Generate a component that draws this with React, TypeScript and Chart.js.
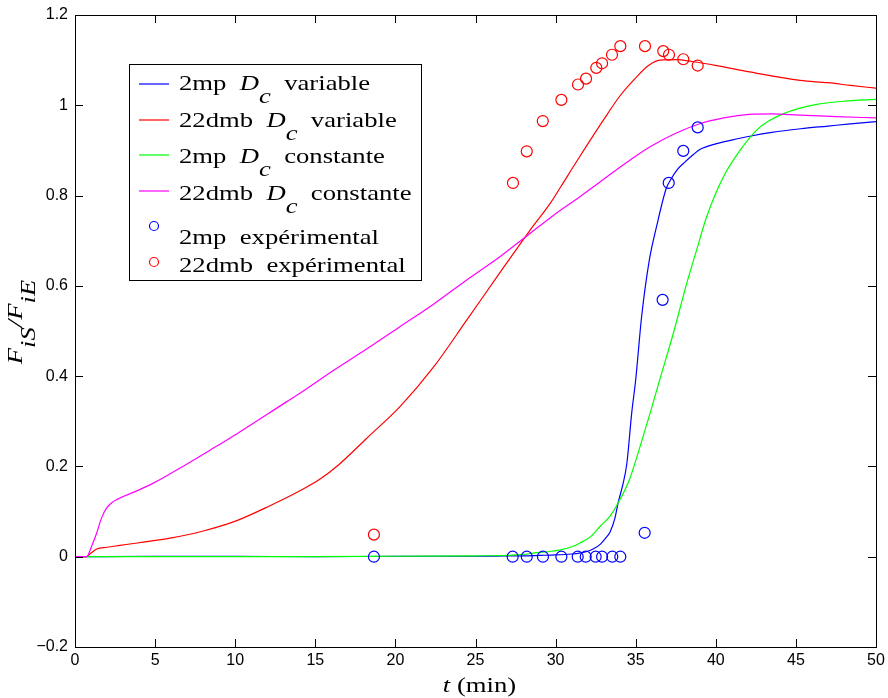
import React, { useEffect, useRef } from 'react';
import { Chart, registerables } from 'chart.js';

Chart.register(...registerables);

// ---- data ----
const xTickValues = [0, 5, 10, 15, 20, 25, 30, 35, 40, 45, 50];
const yTickValues = [-0.2, 0, 0.2, 0.4, 0.6, 0.8, 1, 1.2];

const t2mpVar = [0, 5, 10, 15, 20, 25, 27, 28, 29, 30, 31, 31.5, 32, 32.4, 32.8, 33.1, 33.4, 33.7, 33.9, 34.2, 34.45, 34.75, 35.0, 35.37, 35.85, 36.3, 36.9, 37.2, 37.56, 38.0, 38.6, 39.0, 40.05, 41.0, 42.2, 43.5, 45.3, 47.0, 48.4, 50];
const v2mpVar = [0, 0.001, 0.001, 0, 0.001, 0.001, 0.002, 0.002, 0.003, 0.004, 0.006, 0.008, 0.012, 0.018, 0.028, 0.04, 0.055, 0.085, 0.119, 0.16, 0.207, 0.318, 0.392, 0.532, 0.657, 0.731, 0.815, 0.836, 0.856, 0.872, 0.891, 0.902, 0.915, 0.923, 0.932, 0.94, 0.948, 0.954, 0.959, 0.964];

const t22Var = [0, 0.7, 1.0, 1.35, 2.0, 2.8, 4.0, 5.93, 8.0, 10.1, 12.17, 14.25, 15.3, 16.5, 18.2, 20.3, 22.4, 24.45, 26.5, 28.4, 29.65, 30.7, 31.5, 32.98, 34.0, 35.06, 35.8, 36.5, 37.56, 38.5, 40.05, 42.1, 45.26, 47.0, 48.4, 50];
const v22Var = [0, 0, 0.008, 0.017, 0.021, 0.025, 0.031, 0.041, 0.057, 0.08, 0.113, 0.15, 0.172, 0.205, 0.262, 0.333, 0.421, 0.524, 0.628, 0.723, 0.782, 0.841, 0.886, 0.967, 1.02, 1.063, 1.088, 1.10, 1.101, 1.097, 1.088, 1.074, 1.055, 1.05, 1.044, 1.038];

const t2mpConst = [0, 5, 10, 15, 20, 25, 27, 28, 28.6, 29.5, 30.3, 31.0, 31.5, 32.2, 32.77, 33.4, 33.9, 34.6, 35.27, 35.9, 36.5, 37.35, 38.18, 38.8, 39.43, 40.47, 41.51, 42.55, 43.3, 44.2, 45.2, 46.3, 48, 50];
const v2mpConst = [0, 0, 0, 0, 0.001, 0.002, 0.003, 0.005, 0.008, 0.011, 0.015, 0.022, 0.03, 0.045, 0.067, 0.09, 0.119, 0.17, 0.244, 0.318, 0.392, 0.495, 0.605, 0.679, 0.753, 0.841, 0.9, 0.945, 0.965, 0.981, 0.993, 1.002, 1.009, 1.013];

const t22Const = [0, 0.73, 1.0, 1.35, 1.66, 1.98, 2.39, 2.8, 4.0, 4.89, 6.97, 8.43, 10.09, 13.2, 14.04, 16.1, 18.2, 20.3, 22.4, 24.45, 26.5, 28.4, 29.86, 31.5, 32.77, 34.3, 35.9, 37.5, 39.0, 40.5, 42.1, 43.5, 45.26, 47.5, 50];
const v22Const = [0, 0, 0.02, 0.052, 0.086, 0.108, 0.122, 0.13, 0.148, 0.163, 0.205, 0.236, 0.272, 0.343, 0.362, 0.412, 0.46, 0.51, 0.56, 0.613, 0.664, 0.716, 0.756, 0.797, 0.83, 0.87, 0.908, 0.938, 0.959, 0.972, 0.98, 0.981, 0.978, 0.975, 0.972];

const t2mpExp = [18.66, 27.32, 28.2, 29.21, 30.36, 31.38, 31.88, 32.5, 32.9, 33.54, 34.04, 35.56, 36.68, 37.06, 37.97, 38.87];
const v2mpExp = [0, 0, 0, 0, 0, 0, 0, 0, 0, 0, 0, 0.053, 0.569, 0.828, 0.899, 0.951];

const t22Exp = [18.66, 27.34, 28.2, 29.2, 30.36, 31.4, 31.9, 32.54, 32.9, 33.52, 34.04, 35.58, 36.72, 37.08, 37.97, 38.87];
const v22Exp = [0.049, 0.828, 0.898, 0.965, 1.012, 1.046, 1.059, 1.083, 1.093, 1.112, 1.131, 1.131, 1.12, 1.112, 1.102, 1.088];

const legendRows = [
  { pre: '2mp', dc: true, post: 'variable', color: '#0000ff', kind: 'line' },
  { pre: '22dmb', dc: true, post: 'variable', color: '#ff0000', kind: 'line' },
  { pre: '2mp', dc: true, post: 'constante', color: '#00ff00', kind: 'line' },
  { pre: '22dmb', dc: true, post: 'constante', color: '#ff00ff', kind: 'line' },
  { pre: '2mp', dc: false, post: 'expérimental', color: '#0000ff', kind: 'circle' },
  { pre: '22dmb', dc: false, post: 'expérimental', color: '#ff0000', kind: 'circle' },
];
const xTitleItalic = 't';
const xTitleRest = ' (min)';

const pts = (t: number[], v: number[]) => t.map((x, i) => ({ x, y: v[i] }));

const SERIF = '"Liberation Serif", "Times New Roman", serif';
const SX = 1.27;
const FS = 21;

const framePlugin = {
  id: 'frameTicks',
  afterDatasetsDraw(chart: any) {
    const { ctx, chartArea, scales } = chart;
    const { left, right, top, bottom } = chartArea;
    ctx.save();
    ctx.strokeStyle = '#000';
    ctx.lineWidth = 1;
    ctx.strokeRect(Math.round(left) + 0.5, Math.round(top) + 0.5, Math.round(right - left), Math.round(bottom - top));
    ctx.beginPath();
    const L = 8;
    xTickValues.forEach((v) => {
      const px = Math.round(scales.x.getPixelForValue(v)) + 0.5;
      ctx.moveTo(px, bottom);
      ctx.lineTo(px, bottom - L);
      ctx.moveTo(px, top);
      ctx.lineTo(px, top + L);
    });
    yTickValues.forEach((v) => {
      const py = Math.round(scales.y.getPixelForValue(v)) + 0.5;
      ctx.moveTo(left, py);
      ctx.lineTo(left + L, py);
      ctx.moveTo(right, py);
      ctx.lineTo(right - L, py);
    });
    ctx.stroke();
    ctx.restore();
  },
};

type Piece = { text: string; italic: boolean; sub?: boolean };

function drawPieces(ctx: CanvasRenderingContext2D, pieces: Piece[], startX: number, baseY: number, subOff: number) {
  let x = startX;
  pieces.forEach((p) => {
    ctx.font = `${p.italic ? 'italic ' : ''}${FS}px ${SERIF}`;
    ctx.fillText(p.text, x, baseY + (p.sub ? subOff : 0));
    x += ctx.measureText(p.text).width;
  });
  return x;
}

function measurePieces(ctx: CanvasRenderingContext2D, pieces: Piece[]) {
  let w = 0;
  pieces.forEach((p) => {
    ctx.font = `${p.italic ? 'italic ' : ''}${FS}px ${SERIF}`;
    w += ctx.measureText(p.text).width;
  });
  return w;
}

const overlayPlugin = {
  id: 'overlay',
  afterDraw(chart: any) {
    const { ctx, chartArea } = chart;
    const { left, right, top, bottom } = chartArea;
    ctx.save();
    ctx.textBaseline = 'alphabetic';
    ctx.textAlign = 'left';
    // legend box
    const bx = left + 54;
    const by = top + 49;
    const bw = 292;
    const bh = 216;
    ctx.fillStyle = '#fff';
    ctx.fillRect(bx, by, bw, bh);
    ctx.strokeStyle = '#000';
    ctx.lineWidth = 1;
    ctx.strokeRect(bx + 0.5, by + 0.5, bw, bh);
    const lineY = [20, 56, 91, 127];
    const circY = [162, 198];
    const baseY = [26, 62.5, 99, 136, 180, 208];
    legendRows.forEach((r, i) => {
      ctx.strokeStyle = r.color;
      ctx.lineWidth = 1.2;
      if (r.kind === 'line') {
        ctx.beginPath();
        ctx.moveTo(bx + 10, by + lineY[i]);
        ctx.lineTo(bx + 40, by + lineY[i]);
        ctx.stroke();
      } else {
        ctx.beginPath();
        ctx.arc(bx + 25, by + circY[i - 4], 4.5, 0, Math.PI * 2);
        ctx.stroke();
      }
      ctx.save();
      ctx.translate(bx + 50, 0);
      ctx.scale(SX, 1);
      ctx.fillStyle = '#000';
      const pieces: Piece[] = r.dc
        ? [
            { text: r.pre + '  ', italic: false },
            { text: 'D', italic: true },
            { text: 'c', italic: true, sub: true },
            { text: '  ' + r.post, italic: false },
          ]
        : [{ text: r.pre + '  ' + r.post, italic: false }];
      drawPieces(ctx, pieces, 0, by + baseY[i], 13);
      ctx.restore();
    });

    // x title
    ctx.save();
    ctx.fillStyle = '#000';
    const xp: Piece[] = [
      { text: xTitleItalic, italic: true },
      { text: xTitleRest, italic: false },
    ];
    const cx = (left + right) / 2 + 4;
    ctx.translate(cx, 0);
    ctx.scale(SX, 1);
    const w = measurePieces(ctx, xp);
    drawPieces(ctx, xp, -w / 2, 692, 0);
    ctx.restore();

    // y title
    ctx.save();
    ctx.fillStyle = '#000';
    const yp: Piece[] = [
      { text: 'F', italic: true },
      { text: 'iS', italic: true, sub: true },
      { text: '/', italic: true },
      { text: 'F', italic: true },
      { text: 'iE', italic: true, sub: true },
    ];
    ctx.translate(22, (top + bottom) / 2 - 9);
    ctx.rotate(-Math.PI / 2);
    ctx.scale(SX, 1);
    const wy = measurePieces(ctx, yp);
    drawPieces(ctx, yp, -wy / 2, 0, 13);
    ctx.restore();

    ctx.restore();
  },
};

const tickFont = { family: '"Liberation Sans", Arial, Helvetica, sans-serif', size: 16 };

export default function App() {
  const ref = useRef<HTMLCanvasElement>(null);
  useEffect(() => {
    if (!ref.current) return;
    const lineDs = (label: string, t: number[], v: number[], color: string, order: number) => ({
      label,
      data: pts(t, v),
      borderColor: color,
      backgroundColor: color,
      borderWidth: 1.2,
      pointRadius: 0,
      showLine: true,
      fill: false,
      cubicInterpolationMode: 'monotone',
      order,
    });
    const circDs = (label: string, t: number[], v: number[], color: string) => ({
      label,
      data: pts(t, v),
      borderColor: color,
      backgroundColor: 'rgba(0,0,0,0)',
      borderWidth: 1.2,
      pointRadius: 5.5,
      pointStyle: 'circle',
      showLine: false,
      order: 0,
    });
    const chart = new Chart(ref.current, {
      type: 'scatter',
      data: {
        datasets: [
          lineDs('2mp Dc variable', t2mpVar, v2mpVar, '#0000ff', 4),
          lineDs('22dmb Dc variable', t22Var, v22Var, '#ff0000', 3),
          lineDs('2mp Dc constante', t2mpConst, v2mpConst, '#00ff00', 2),
          lineDs('22dmb Dc constante', t22Const, v22Const, '#ff00ff', 1),
          circDs('2mp expérimental', t2mpExp, v2mpExp, '#0000ff'),
          circDs('22dmb expérimental', t22Exp, v22Exp, '#ff0000'),
        ] as any,
      },
      options: {
        animation: false,
        responsive: false,
        devicePixelRatio: 1,
        layout: { padding: { top: 15, right: 12, bottom: 0, left: 0 } },
        plugins: { legend: { display: false }, tooltip: { enabled: false } },
        scales: {
          x: {
            type: 'linear',
            min: 0,
            max: 50,
            grid: { display: false, drawTicks: false },
            border: { display: false },
            ticks: {
              stepSize: 5,
              color: '#000',
              font: tickFont,
              padding: 4,
              maxRotation: 0,
              autoSkip: false,
            },
            afterFit: (s: any) => {
              s.height = 51;
              s.paddingLeft = 0;
              s.paddingRight = 0;
            },
          },
          y: {
            type: 'linear',
            min: -0.2,
            max: 1.2,
            grid: { display: false, drawTicks: false },
            border: { display: false },
            ticks: {
              stepSize: 0.2,
              color: '#000',
              font: tickFont,
              padding: 7,
              autoSkip: false,
              callback: (v: any) => {
                const r = Math.round(Number(v) * 10) / 10;
                return r < 0 ? '\u2212' + Math.abs(r) : String(r);
              },
            },
            afterFit: (s: any) => {
              s.width = 75;
              s.paddingTop = 0;
              s.paddingBottom = 0;
            },
          },
        },
      } as any,
      plugins: [framePlugin, overlayPlugin],
    });
    return () => chart.destroy();
  }, []);
  return (
    <div style={{ position: 'fixed', left: 0, top: 0, width: 888, height: 698, background: '#fff' }}>
      <canvas ref={ref} width={888} height={698} style={{ display: 'block', width: 888, height: 698 }} />
    </div>
  );
}
